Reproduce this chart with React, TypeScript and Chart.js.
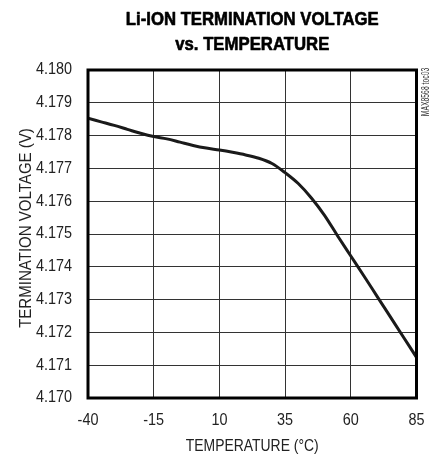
import React, { useEffect, useRef } from "react";
import { Chart, registerables } from "chart.js";

Chart.register(...registerables);

const temperatures = [-40, -35, -30, -25, -20, -15, -10, -5, 0, 5, 10, 15, 20, 25, 30, 35, 40, 45, 50, 55, 60, 65, 70, 75, 80, 85];
const voltages = [
  4.17853, 4.17842, 4.17831, 4.17819, 4.17807, 4.17797, 4.1779, 4.1778, 4.1777, 4.17762,
  4.17756, 4.17749, 4.17741, 4.17731, 4.17715, 4.17687, 4.17654, 4.1761, 4.17557, 4.17494,
  4.17433, 4.17372, 4.1731, 4.17248, 4.17186, 4.17124,
];
const xTicks = [-40, -15, 10, 35, 60, 85];
const yTicks = [4.17, 4.171, 4.172, 4.173, 4.174, 4.175, 4.176, 4.177, 4.178, 4.179, 4.18];
const titleLines = ["Li-ION TERMINATION VOLTAGE", "vs. TEMPERATURE"];
const xTitle = "TEMPERATURE (°C)";
const yTitle = "TERMINATION VOLTAGE (V)";
const sideNote = "MAX8568 toc03";

const FONT = "'Liberation Sans', Arial, sans-serif";

function narrowText(ctx: CanvasRenderingContext2D, text: string, x: number, y: number, sx: number, align: CanvasTextAlign, stroke = 0) {
  ctx.save();
  ctx.translate(x, y);
  ctx.scale(sx, 1);
  ctx.textAlign = align;
  if (stroke > 0) {
    ctx.lineWidth = stroke;
    ctx.strokeStyle = ctx.fillStyle as string;
    ctx.lineJoin = "round";
    ctx.strokeText(text, 0, 0);
  }
  ctx.fillText(text, 0, 0);
  ctx.restore();
}

export default function App() {
  const ref = useRef<HTMLCanvasElement | null>(null);

  useEffect(() => {
    const canvas = ref.current;
    if (!canvas) return;

    const textPlugin = {
      id: "texts",
      afterDraw(chart: any) {
        const { ctx, chartArea, scales } = chart;
        const cx = (chartArea.left + chartArea.right) / 2;
        ctx.save();
        // frame
        ctx.strokeStyle = "#000";
        ctx.lineWidth = 3;
        ctx.strokeRect(chartArea.left, chartArea.top, chartArea.right - chartArea.left, chartArea.bottom - chartArea.top);
        // title
        ctx.fillStyle = "#000";
        ctx.textBaseline = "alphabetic";
        ctx.font = `bold 18px ${FONT}`;
        narrowText(ctx, titleLines[0], cx, 25, 0.93, "center", 0.6);
        narrowText(ctx, titleLines[1], cx, 50, 0.93, "center", 0.6);
        // tick labels
        ctx.fillStyle = "#222";
        ctx.font = `16px ${FONT}`;
        ctx.textBaseline = "middle";
        yTicks.forEach((v) => {
          const py = scales.y.getPixelForValue(v);
          narrowText(ctx, v.toFixed(3), 72, py, 0.9, "right");
        });
        ctx.textBaseline = "alphabetic";
        xTicks.forEach((v) => {
          const px = scales.x.getPixelForValue(v);
          narrowText(ctx, String(v), px, 425, 0.9, "center");
        });
        // x title
        narrowText(ctx, xTitle, cx, 451, 0.87, "center");
        // y title
        ctx.save();
        ctx.translate(31, 228);
        ctx.rotate(-Math.PI / 2);
        narrowText(ctx, yTitle, 0, 0, 0.94, "center");
        ctx.restore();
        // side note
        ctx.save();
        ctx.translate(429, 92);
        ctx.rotate(-Math.PI / 2);
        ctx.font = `10px ${FONT}`;
        ctx.fillStyle = "#333";
        narrowText(ctx, sideNote, 0, 0, 0.68, "center");
        ctx.restore();
        ctx.restore();
      },
    };

    const chart = new Chart(canvas, {
      type: "line",
      data: {
        datasets: [
          {
            data: temperatures.map((t, i) => ({ x: t, y: voltages[i] })),
            borderColor: "#1a1a1a",
            borderWidth: 3,
            pointRadius: 0,
            cubicInterpolationMode: "monotone",
            fill: false,
          },
        ],
      },
      options: {
        animation: false,
        responsive: false,
        maintainAspectRatio: false,
        layout: { padding: { left: 0, right: 16.5, top: 70, bottom: 0 } },
        plugins: { legend: { display: false }, title: { display: false }, tooltip: { enabled: false } },
        scales: {
          x: {
            type: "linear",
            min: -40,
            max: 85,
            afterBuildTicks: (s: any) => {
              s.ticks = xTicks.map((v) => ({ value: v }));
            },
            afterFit: (s: any) => {
              s.height = 58;
            },
            grid: { color: "#333", lineWidth: 1, drawTicks: false },
            border: { display: false },
            ticks: { display: false },
          },
          y: {
            type: "linear",
            min: 4.17,
            max: 4.18,
            afterBuildTicks: (s: any) => {
              s.ticks = yTicks.map((v) => ({ value: v }));
            },
            afterFit: (s: any) => {
              s.width = 88;
            },
            grid: { color: "#333", lineWidth: 1, drawTicks: false },
            border: { display: false },
            ticks: { display: false },
          },
        },
      },
      plugins: [textPlugin],
    });
    return () => chart.destroy();
  }, []);

  return (
    <div style={{ position: "absolute", left: 0, top: 0, width: 433, height: 456, background: "#fff" }}>
      <canvas ref={ref} width={433} height={456} style={{ width: 433, height: 456, display: "block" }} />
    </div>
  );
}
